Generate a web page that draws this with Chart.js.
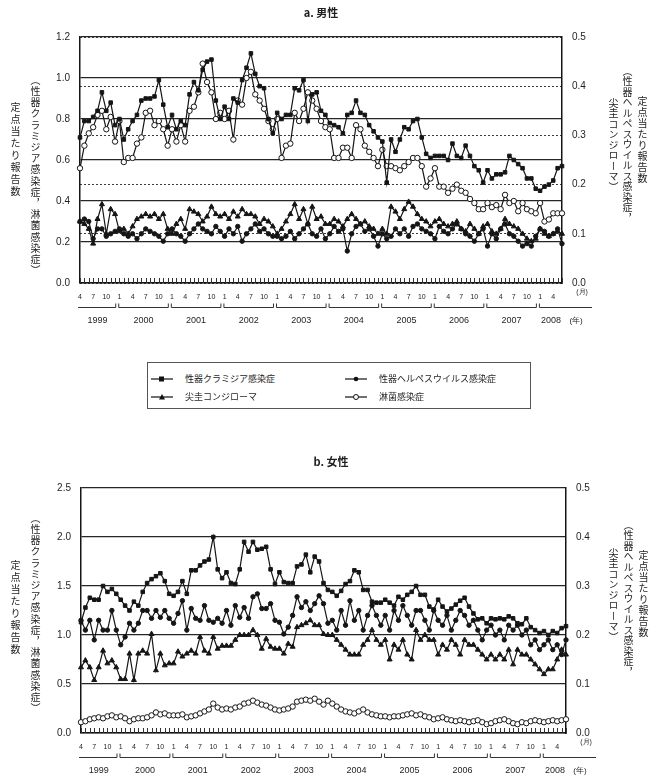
<!DOCTYPE html>
<html lang="ja">
<head>
<meta charset="utf-8">
<title>性感染症 定点当たり報告数の推移</title>
<script src="https://cdn.jsdelivr.net/npm/chart.js@4/dist/chart.umd.min.js"></script>
<style>
  html, body { margin: 0; padding: 0; background: #fff; }
  body { width: 652px; height: 776px; position: relative; overflow: hidden;
         font-family: "Noto Sans CJK JP", "Noto Sans", sans-serif; color: #1e1e1e; }
  canvas { position: absolute; left: 0; }
  #maleChart { top: 0; }
  #femaleChart { top: 440px; }
  .title { position: absolute; font-size: 11px; font-weight: bold; white-space: nowrap; transform: translateX(-50%); }
  .vt { position: absolute; writing-mode: vertical-rl; text-align: center; font-size: 10px; white-space: nowrap; color: #1e1e1e; }
  #legend { position: absolute; left: 147px; top: 362px; width: 384px; height: 47px;
            border: 1.5px solid #555; box-sizing: border-box; font-size: 9px; color: #1e1e1e; }
  .item { position: absolute; display: flex; align-items: center; white-space: nowrap; color: #1e1e1e; }
  .item svg { margin-right: 12px; }
</style>
</head>
<body>
<canvas id="maleChart" width="652" height="336"></canvas>
<canvas id="femaleChart" width="652" height="336"></canvas>

<div class="title" style="left:321px;top:4px;">a. 男性</div>
<div class="title" style="left:331px;top:453px;">b. 女性</div>

<!-- axis titles, male panel -->
<div class="vt" style="left:10px;top:100px;height:100px;line-height:10px;letter-spacing:2px;">定点当たり報告数</div>
<div class="vt" style="left:30px;top:75px;height:195px;line-height:10px;letter-spacing:1.2px;">（性器クラミジア感染症，淋菌感染症）</div>
<div class="vt" style="left:637px;top:95px;height:90px;line-height:10px;letter-spacing:1px;">定点当たり報告数</div>
<div class="vt" style="left:622px;top:66px;height:152px;line-height:10px;letter-spacing:0.5px;">（性器ヘルペスウイルス感染症，</div>
<div class="vt" style="left:608px;top:98px;height:94px;line-height:10px;letter-spacing:0.5px;">尖圭コンジローマ）</div>

<!-- axis titles, female panel -->
<div class="vt" style="left:10px;top:560px;height:96px;line-height:10px;letter-spacing:2px;">定点当たり報告数</div>
<div class="vt" style="left:30px;top:513px;height:196px;line-height:10px;letter-spacing:1.2px;">（性器クラミジア感染症，淋菌感染症）</div>
<div class="vt" style="left:638px;top:549px;height:90px;line-height:10px;letter-spacing:1px;">定点当たり報告数</div>
<div class="vt" style="left:623px;top:520px;height:154px;line-height:10px;letter-spacing:0.5px;">（性器ヘルペスウイルス感染症，</div>
<div class="vt" style="left:608px;top:548px;height:94px;line-height:10px;letter-spacing:0.5px;">尖圭コンジローマ）</div>

<div id="legend">
  <div class="item" style="left:3px;top:9px;">
    <svg width="22" height="8"><line x1="0" y1="4" x2="22" y2="4" stroke="#111" stroke-width="1.2"/><rect x="8" y="1.5" width="5" height="5" fill="#111"/></svg><span>性器クラミジア感染症</span></div>
  <div class="item" style="left:197px;top:9px;">
    <svg width="22" height="8"><line x1="0" y1="4" x2="22" y2="4" stroke="#111" stroke-width="1.2"/><circle cx="11" cy="4" r="2.3" fill="#111"/></svg><span>性器ヘルペスウイルス感染症</span></div>
  <div class="item" style="left:3px;top:27px;">
    <svg width="22" height="8"><line x1="0" y1="4" x2="22" y2="4" stroke="#111" stroke-width="1.2"/><polygon points="11,1 14,6.5 8,6.5" fill="#111"/></svg><span>尖圭コンジローマ</span></div>
  <div class="item" style="left:197px;top:27px;">
    <svg width="22" height="8"><line x1="0" y1="4" x2="8.5" y2="4" stroke="#111" stroke-width="1.2"/><line x1="13.5" y1="4" x2="22" y2="4" stroke="#111" stroke-width="1.2"/><circle cx="11" cy="4" r="2.5" fill="#fff" stroke="#111" stroke-width="1"/></svg><span>淋菌感染症</span></div>
</div>

<script>
// Time axis: monthly points, April 1999 to June 2008
const years = [1999, 2000, 2001, 2002, 2003, 2004, 2005, 2006, 2007, 2008];
const startMonth = 4;
const endMonth = 6;
const tickMonths = [1, 4, 7, 10];

// Male: left axis (chlamydia, gonorrhoea), right axis (herpes, condyloma)
const maleChlamydia = [
  0.71, 0.79, 0.79, 0.81, 0.84, 0.93, 0.84, 0.88, 0.77,
  0.80, 0.70, 0.75, 0.79, 0.82, 0.89, 0.90, 0.90, 0.91, 0.99, 0.87, 0.76,
  0.82, 0.75, 0.79, 0.77, 0.92, 0.98, 0.94, 1.04, 1.08, 1.09, 0.89, 0.80,
  0.86, 0.80, 0.90, 0.88, 0.99, 1.05, 1.12, 1.02, 0.96, 0.95, 0.80, 0.73,
  0.83, 0.80, 0.82, 0.82, 0.95, 0.94, 0.99, 0.79, 0.92, 0.93, 0.84, 0.82,
  0.78, 0.77, 0.76, 0.73, 0.82, 0.83, 0.89, 0.83, 0.82, 0.77, 0.74, 0.71,
  0.69, 0.49, 0.70, 0.64, 0.70, 0.76, 0.75, 0.79, 0.80, 0.71, 0.63, 0.61,
  0.62, 0.62, 0.62, 0.60, 0.68, 0.62, 0.61, 0.67, 0.62, 0.57, 0.55, 0.49,
  0.55, 0.51, 0.53, 0.53, 0.54, 0.62, 0.60, 0.58, 0.56, 0.51, 0.51, 0.46,
  0.45, 0.47, 0.48, 0.50, 0.56, 0.57
];
const maleGonorrhea = [
  0.56, 0.67, 0.73, 0.76, 0.82, 0.84, 0.75, 0.81, 0.69,
  0.79, 0.59, 0.61, 0.61, 0.68, 0.71, 0.83, 0.84, 0.77, 0.79, 0.75, 0.67,
  0.75, 0.69, 0.77, 0.69, 0.84, 0.86, 0.93, 1.07, 0.98, 0.93, 0.80, 0.83,
  0.80, 0.84, 0.70, 0.89, 0.87, 1.00, 1.03, 0.92, 0.89, 0.85, 0.79, 0.75,
  0.80, 0.61, 0.67, 0.68, 0.83, 0.79, 0.85, 0.93, 0.89, 0.85, 0.79, 0.76,
  0.75, 0.61, 0.61, 0.66, 0.66, 0.61, 0.77, 0.75, 0.67, 0.64, 0.61, 0.57,
  0.65, 0.57, 0.57, 0.56, 0.55, 0.57, 0.59, 0.61, 0.61, 0.57, 0.47, 0.51,
  0.56, 0.47, 0.47, 0.44, 0.46, 0.48, 0.45, 0.44, 0.41, 0.39, 0.36, 0.36,
  0.39, 0.37, 0.38, 0.36, 0.43, 0.39, 0.40, 0.35, 0.39, 0.36, 0.35, 0.34,
  0.39, 0.30, 0.31, 0.34, 0.34, 0.34
];
const maleHerpes = [
  0.125, 0.13, 0.125, 0.09, 0.11, 0.11, 0.095, 0.10, 0.105,
  0.11, 0.10, 0.095, 0.10, 0.09, 0.10, 0.11, 0.105, 0.10, 0.095, 0.085, 0.10,
  0.11, 0.10, 0.095, 0.085, 0.10, 0.11, 0.12, 0.11, 0.105, 0.10, 0.115, 0.105,
  0.095, 0.11, 0.10, 0.115, 0.085, 0.10, 0.11, 0.12, 0.105, 0.11, 0.10, 0.095,
  0.095, 0.09, 0.095, 0.105, 0.09, 0.10, 0.11, 0.12, 0.10, 0.095, 0.11, 0.09,
  0.10, 0.115, 0.105, 0.11, 0.065, 0.10, 0.115, 0.12, 0.105, 0.11, 0.095, 0.075,
  0.10, 0.09, 0.095, 0.11, 0.10, 0.11, 0.095, 0.115, 0.12, 0.11, 0.105, 0.10,
  0.09, 0.115, 0.105, 0.10, 0.11, 0.12, 0.11, 0.10, 0.095, 0.085, 0.10, 0.11,
  0.075, 0.10, 0.09, 0.11, 0.12, 0.10, 0.095, 0.085, 0.075, 0.08, 0.075, 0.095,
  0.11, 0.105, 0.095, 0.10, 0.11, 0.08
];
const maleCondyloma = [
  0.125, 0.12, 0.11, 0.08, 0.13, 0.16, 0.10, 0.15, 0.14,
  0.105, 0.11, 0.10, 0.115, 0.13, 0.135, 0.14, 0.135, 0.14, 0.13, 0.14, 0.11,
  0.10, 0.12, 0.13, 0.11, 0.15, 0.145, 0.14, 0.125, 0.135, 0.155, 0.14, 0.135,
  0.14, 0.13, 0.145, 0.135, 0.15, 0.14, 0.14, 0.135, 0.12, 0.13, 0.125, 0.115,
  0.10, 0.11, 0.125, 0.14, 0.16, 0.13, 0.15, 0.12, 0.155, 0.13, 0.135, 0.12,
  0.12, 0.13, 0.125, 0.115, 0.13, 0.14, 0.13, 0.12, 0.125, 0.115, 0.11, 0.10,
  0.11, 0.10, 0.155, 0.145, 0.13, 0.15, 0.165, 0.155, 0.14, 0.13, 0.125, 0.115,
  0.125, 0.13, 0.12, 0.115, 0.12, 0.125, 0.11, 0.105, 0.12, 0.11, 0.10, 0.115,
  0.12, 0.105, 0.10, 0.11, 0.13, 0.12, 0.115, 0.11, 0.10, 0.09, 0.085, 0.09,
  0.11, 0.10, 0.095, 0.10, 0.105, 0.10
];

// Female
const femaleChlamydia = [
  1.13, 1.28, 1.38, 1.36, 1.36, 1.50, 1.44, 1.47, 1.42,
  1.36, 1.30, 1.25, 1.34, 1.30, 1.44, 1.53, 1.57, 1.60, 1.63, 1.55, 1.42,
  1.40, 1.44, 1.55, 1.42, 1.66, 1.66, 1.71, 1.75, 1.77, 2.00, 1.67, 1.58,
  1.64, 1.53, 1.52, 1.67, 1.95, 1.85, 1.95, 1.87, 1.88, 1.90, 1.67, 1.52,
  1.64, 1.54, 1.53, 1.53, 1.70, 1.72, 1.82, 1.64, 1.80, 1.75, 1.53, 1.46,
  1.44, 1.40, 1.45, 1.52, 1.55, 1.66, 1.64, 1.46, 1.46, 1.34, 1.33, 1.33,
  1.36, 1.33, 1.30, 1.39, 1.36, 1.41, 1.44, 1.50, 1.41, 1.41, 1.29, 1.26,
  1.36, 1.29, 1.24, 1.27, 1.31, 1.35, 1.38, 1.29, 1.22, 1.16, 1.17, 1.12,
  1.17, 1.16, 1.17, 1.16, 1.19, 1.17, 1.12, 1.11, 1.17, 1.08, 1.05, 1.02,
  1.04, 1.00, 1.04, 1.02, 1.07, 1.09
];
const femaleGonorrhea = [
  0.11, 0.12, 0.14, 0.15, 0.16, 0.15, 0.17, 0.18, 0.16,
  0.17, 0.15, 0.12, 0.14, 0.15, 0.15, 0.16, 0.18, 0.21, 0.19, 0.20, 0.18,
  0.18, 0.18, 0.19, 0.16, 0.17, 0.18, 0.20, 0.22, 0.24, 0.30, 0.26, 0.24,
  0.25, 0.24, 0.26, 0.27, 0.30, 0.31, 0.33, 0.31, 0.29, 0.28, 0.26, 0.24,
  0.23, 0.24, 0.25, 0.27, 0.32, 0.33, 0.34, 0.33, 0.35, 0.32, 0.29, 0.33,
  0.30, 0.27, 0.24, 0.22, 0.21, 0.20, 0.22, 0.24, 0.21, 0.19, 0.18, 0.17,
  0.17, 0.16, 0.17, 0.17, 0.18, 0.19, 0.20, 0.18, 0.19, 0.17, 0.16, 0.14,
  0.15, 0.16, 0.14, 0.13, 0.12, 0.13, 0.12, 0.11, 0.12, 0.13, 0.11, 0.09,
  0.10, 0.12, 0.13, 0.14, 0.12, 0.10, 0.09, 0.11, 0.10, 0.12, 0.13, 0.12,
  0.11, 0.12, 0.13, 0.12, 0.13, 0.14
];
const femaleHerpes = [
  0.23, 0.21, 0.23, 0.19, 0.23, 0.21, 0.21, 0.25, 0.21,
  0.18, 0.196, 0.224, 0.21, 0.224, 0.25, 0.25, 0.234, 0.25, 0.236, 0.25, 0.234,
  0.224, 0.244, 0.27, 0.21, 0.254, 0.234, 0.23, 0.26, 0.23, 0.226, 0.234, 0.224,
  0.25, 0.22, 0.26, 0.236, 0.256, 0.234, 0.278, 0.284, 0.254, 0.254, 0.264, 0.23,
  0.226, 0.202, 0.216, 0.24, 0.278, 0.256, 0.268, 0.25, 0.264, 0.28, 0.264, 0.224,
  0.23, 0.21, 0.25, 0.22, 0.27, 0.23, 0.25, 0.21, 0.24, 0.26, 0.24, 0.22,
  0.24, 0.21, 0.25, 0.23, 0.26, 0.24, 0.22, 0.25, 0.25, 0.23, 0.21, 0.25,
  0.23, 0.22, 0.24, 0.21, 0.23, 0.25, 0.24, 0.22, 0.23, 0.21, 0.19, 0.21,
  0.22, 0.20, 0.21, 0.19, 0.22, 0.21, 0.22, 0.20, 0.21, 0.18, 0.19, 0.17,
  0.18, 0.19, 0.17, 0.18, 0.16, 0.19
];
const femaleCondyloma = [
  0.134, 0.148, 0.134, 0.108, 0.134, 0.168, 0.142, 0.148, 0.134,
  0.11, 0.11, 0.162, 0.108, 0.162, 0.168, 0.162, 0.202, 0.128, 0.162, 0.138, 0.142,
  0.142, 0.166, 0.156, 0.162, 0.168, 0.162, 0.196, 0.168, 0.162, 0.196, 0.172, 0.178,
  0.178, 0.178, 0.19, 0.20, 0.20, 0.20, 0.21, 0.20, 0.172, 0.192, 0.176, 0.172,
  0.172, 0.162, 0.182, 0.176, 0.216, 0.22, 0.224, 0.23, 0.22, 0.22, 0.202, 0.20,
  0.20, 0.19, 0.18, 0.17, 0.16, 0.16, 0.16, 0.18, 0.19, 0.21, 0.19, 0.18,
  0.19, 0.15, 0.18, 0.17, 0.19, 0.16, 0.15, 0.21, 0.19, 0.20, 0.19, 0.19,
  0.16, 0.18, 0.17, 0.19, 0.18, 0.16, 0.19, 0.18, 0.18, 0.17, 0.16, 0.15,
  0.16, 0.15, 0.16, 0.15, 0.17, 0.14, 0.17, 0.16, 0.16, 0.15, 0.14, 0.13,
  0.12, 0.13, 0.13, 0.15, 0.17, 0.16
];

// month / year of each point
const monthOf = [];
const yearOf = [];
years.forEach((y, k) => {
  const m0 = k === 0 ? startMonth : 1;
  const m1 = k === years.length - 1 ? endMonth : 12;
  for (let m = m0; m <= m1; m++) { monthOf.push(m); yearOf.push(y); }
});
const labels = monthOf.map((m, i) => yearOf[i] + '/' + m);

const INK = '#151515';
const NUM_FONT = '"Liberation Sans", Arial, sans-serif';

function series(label, data, axis, style, radius, fill) {
  return {
    label, data, yAxisID: axis,
    borderColor: INK, borderWidth: 1.2, tension: 0, fill: false, clip: false,
    pointStyle: style, pointRadius: radius, pointHoverRadius: radius,
    pointBackgroundColor: fill, pointBorderColor: INK, pointBorderWidth: 1
  };
}

// monthly tick marks inside the plot, year brackets and year labels under the axis
const timeAxisDecor = {
  id: 'timeAxisDecor',
  beforeDatasetsDraw(chart) {
    const { ctx, chartArea: a, scales: { x } } = chart;
    ctx.save();
    ctx.strokeStyle = '#333';
    ctx.lineWidth = 1;
    ctx.beginPath();
    for (let i = 0; i < monthOf.length; i++) {
      const px = Math.round(x.getPixelForValue(i)) + 0.5;
      ctx.moveTo(px, a.bottom);
      ctx.lineTo(px, a.bottom - 5);
    }
    ctx.stroke();
    ctx.restore();
  },
  afterDraw(chart, args, opts) {
    const { ctx, chartArea: a, scales: { x } } = chart;
    const by = Math.round(a.bottom + opts.bracketY) + 0.5;
    const ty = a.bottom + opts.yearY;
    const lastIdx = yearOf.length - 1;
    ctx.save();
    ctx.strokeStyle = '#333';
    ctx.lineWidth = 1;
    ctx.fillStyle = '#1e1e1e';
    ctx.font = '9px ' + NUM_FONT;
    ctx.textAlign = 'center';
    ctx.textBaseline = 'middle';
    let lastCenter = 0;
    years.forEach(y => {
      const first = yearOf.indexOf(y);
      const last = yearOf.lastIndexOf(y);
      const xl = first === 0 ? a.left - 2 : x.getPixelForValue(first - 0.5) + 1.5;
      const xr = last === lastIdx ? a.right + 30 : x.getPixelForValue(last + 0.5) - 1.5;
      ctx.beginPath();
      if (first !== 0) { ctx.moveTo(xl, by - 4); ctx.lineTo(xl, by); } else { ctx.moveTo(xl, by); }
      ctx.lineTo(xr, by);
      if (last !== lastIdx) ctx.lineTo(xr, by - 4);
      ctx.stroke();
      const cx = (x.getPixelForValue(first) + x.getPixelForValue(last)) / 2;
      ctx.fillText(String(y), cx, ty);
      lastCenter = cx;
    });
    ctx.font = '8px ' + NUM_FONT;
    ctx.fillText('(年)', lastCenter + 25, ty);
    ctx.font = '7px ' + NUM_FONT;
    ctx.fillText('(月)', a.right + 20, a.bottom + opts.monthUnitY);
    ctx.restore();
  }
};

function buildChart(id, cfg) {
  const datasets = [
    series('性器クラミジア感染症', cfg.chlamydia, 'y', 'rect', 2.5, INK),
    series('性器ヘルペスウイルス感染症', cfg.herpes, 'y2', 'circle', 2.2, INK),
    series('尖圭コンジローマ', cfg.condyloma, 'y2', 'triangle', 2.9, INK),
    series('淋菌感染症', cfg.gonorrhea, 'y', 'circle', 2.7, '#fff')
  ];
  return new Chart(document.getElementById(id), {
    type: 'line',
    data: { labels, datasets },
    options: {
      responsive: false,
      devicePixelRatio: 1,
      animation: false,
      events: [],
      layout: { padding: { top: cfg.top, left: 0, right: 0, bottom: 0 } },
      plugins: {
        legend: { display: false },
        tooltip: { enabled: false },
        timeAxisDecor: { bracketY: 24, yearY: 38, monthUnitY: 9 }
      },
      scales: {
        x: {
          type: 'category',
          offset: false,
          afterFit: s => { s.height = cfg.xHeight; },
          grid: { display: false, drawTicks: false },
          border: { display: true, color: INK, width: 1.5 },
          ticks: {
            autoSkip: false, maxRotation: 0, minRotation: 0, padding: 10,
            color: '#1e1e1e', font: { size: 7, family: NUM_FONT },
            callback: (v, i) => tickMonths.includes(monthOf[i]) ? String(monthOf[i]) : ''
          }
        },
        y: {
          position: 'left',
          min: 0, max: cfg.leftMax,
          afterFit: s => { s.width = cfg.leftW; },
          grid: { color: '#262626', lineWidth: 1.3, drawTicks: false },
          border: { display: true, color: INK, width: 1.5 },
          ticks: {
            stepSize: cfg.leftStep, padding: 10, color: '#1e1e1e',
            font: { size: 10, family: NUM_FONT },
            callback: v => Number(v).toFixed(1)
          }
        },
        y2: {
          position: 'right',
          min: 0, max: 0.5,
          afterFit: s => { s.width = cfg.rightW; },
          grid: { display: cfg.dashedGrid, color: '#3a3a3a', lineWidth: 1, drawTicks: false },
          border: { display: true, color: INK, width: 1.5, dash: [2, 2] },
          ticks: {
            stepSize: 0.1, padding: 10, color: '#1e1e1e',
            font: { size: 10, family: NUM_FONT },
            callback: v => Number(v).toFixed(1)
          }
        }
      }
    },
    plugins: [timeAxisDecor]
  });
}

buildChart('maleChart', {
  chlamydia: maleChlamydia, gonorrhea: maleGonorrhea,
  herpes: maleHerpes, condyloma: maleCondyloma,
  top: 37, xHeight: 53, leftW: 80, rightW: 90,
  leftMax: 1.2, leftStep: 0.2, dashedGrid: true
});

buildChart('femaleChart', {
  chlamydia: femaleChlamydia, gonorrhea: femaleGonorrhea,
  herpes: femaleHerpes, condyloma: femaleCondyloma,
  top: 48, xHeight: 43, leftW: 81, rightW: 86,
  leftMax: 2.5, leftStep: 0.5, dashedGrid: false
});
</script>
</body>
</html>
